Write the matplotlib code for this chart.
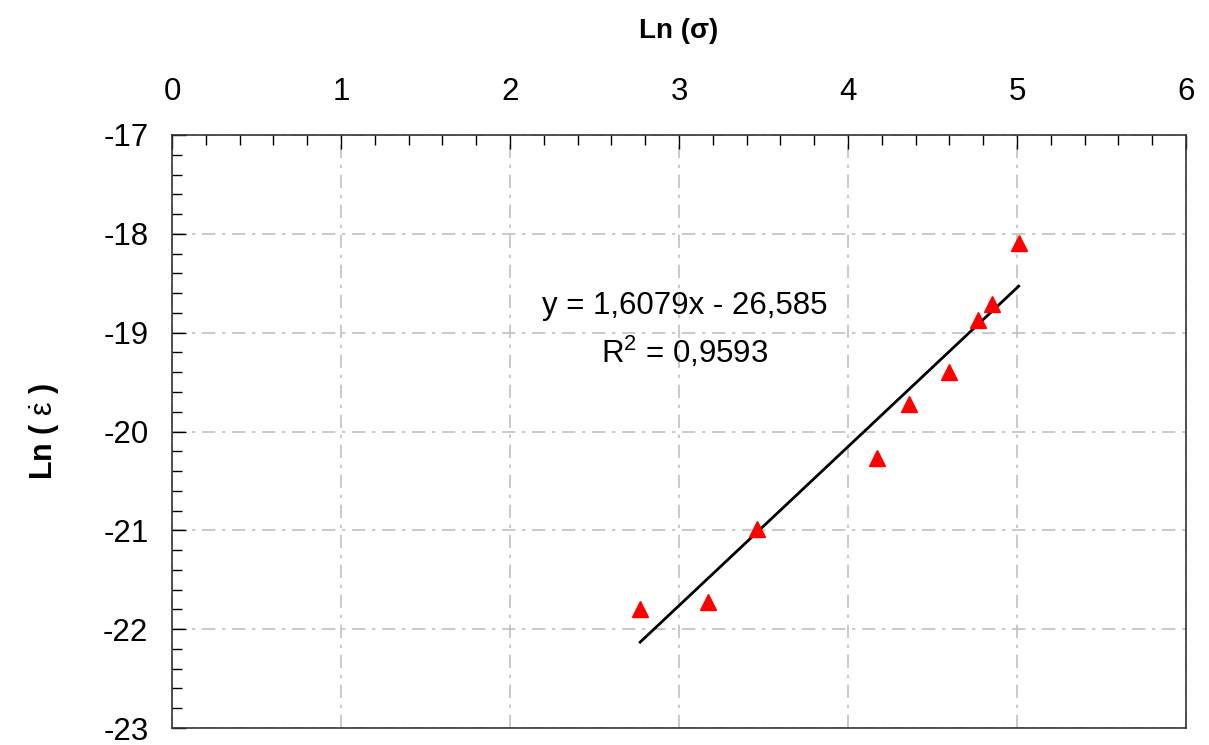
import matplotlib
matplotlib.use("Agg")
import matplotlib.pyplot as plt
import numpy as np
from matplotlib.ticker import MultipleLocator

plt.rcParams['font.family'] = ['Liberation Sans', 'DejaVu Sans']
plt.rcParams['mathtext.fontset'] = 'custom'
plt.rcParams['mathtext.rm'] = 'Liberation Sans'
plt.rcParams['mathtext.it'] = 'Liberation Sans'
plt.rcParams['mathtext.bf'] = 'Liberation Sans:bold'
plt.rcParams['axes.unicode_minus'] = False

# ln(stress) vs ln(strain rate)
ln_sigma = [2.77, 3.17, 3.46, 4.17, 4.36, 4.60, 4.77, 4.85, 5.01]
ln_rate = [-21.80, -21.72, -20.99, -20.27, -19.72, -19.40, -18.87, -18.71, -18.09]

# trendline from the chart's equation
slope = 1.6079
intercept = -26.585
eq_text = "y = 1,6079x - 26,585"
r2_text = "R$^2$ = 0,9593"

fig = plt.figure(figsize=(12.09, 7.45), dpi=100)
ax = fig.add_axes([0.1423, 0.0228, 0.8387, 0.796])

ax.plot(ln_sigma, ln_rate, '^', color='#ff0000', markersize=11, zorder=3)
xfit = np.array([min(ln_sigma), max(ln_sigma)])
ax.plot(xfit, slope * xfit + intercept, color='black', linewidth=2, zorder=2)

ax.set_xlim(0, 6)
ax.set_ylim(-23, -17)
ax.xaxis.set_major_locator(MultipleLocator(1))
ax.xaxis.set_minor_locator(MultipleLocator(0.2))
ax.yaxis.set_major_locator(MultipleLocator(1))
ax.yaxis.set_minor_locator(MultipleLocator(0.2))
ax.xaxis.tick_top()
ax.xaxis.set_label_position('top')
ax.tick_params(axis='both', which='both', direction='in', labelsize=22.5,
               width=1, color='black')
ax.tick_params(axis='both', which='major', length=10)
ax.tick_params(axis='y', which='major', pad=17)
ax.tick_params(axis='x', which='major', pad=20)
ax.tick_params(axis='both', which='minor', length=7)

ax.grid(True, which='major', color='#c0c0c0', linestyle='-.', linewidth=1.2,
        dashes=(8, 4, 2, 4))

for s in ax.spines.values():
    s.set_linewidth(1.2)
    s.set_color('#333333')

ax.set_xlabel("Ln (σ)", fontsize=20, fontweight='bold', labelpad=28)
ax.set_ylabel(r"Ln ( $\dot{\epsilon}$ )", fontsize=22, fontweight='bold', labelpad=30)

ax.text(3.035, -18.73, eq_text, fontsize=22.5, ha='center', va='center')
ax.text(3.035, -19.20, r2_text, fontsize=22.5, ha='center', va='center')

fig.savefig('out.png', dpi=100)
